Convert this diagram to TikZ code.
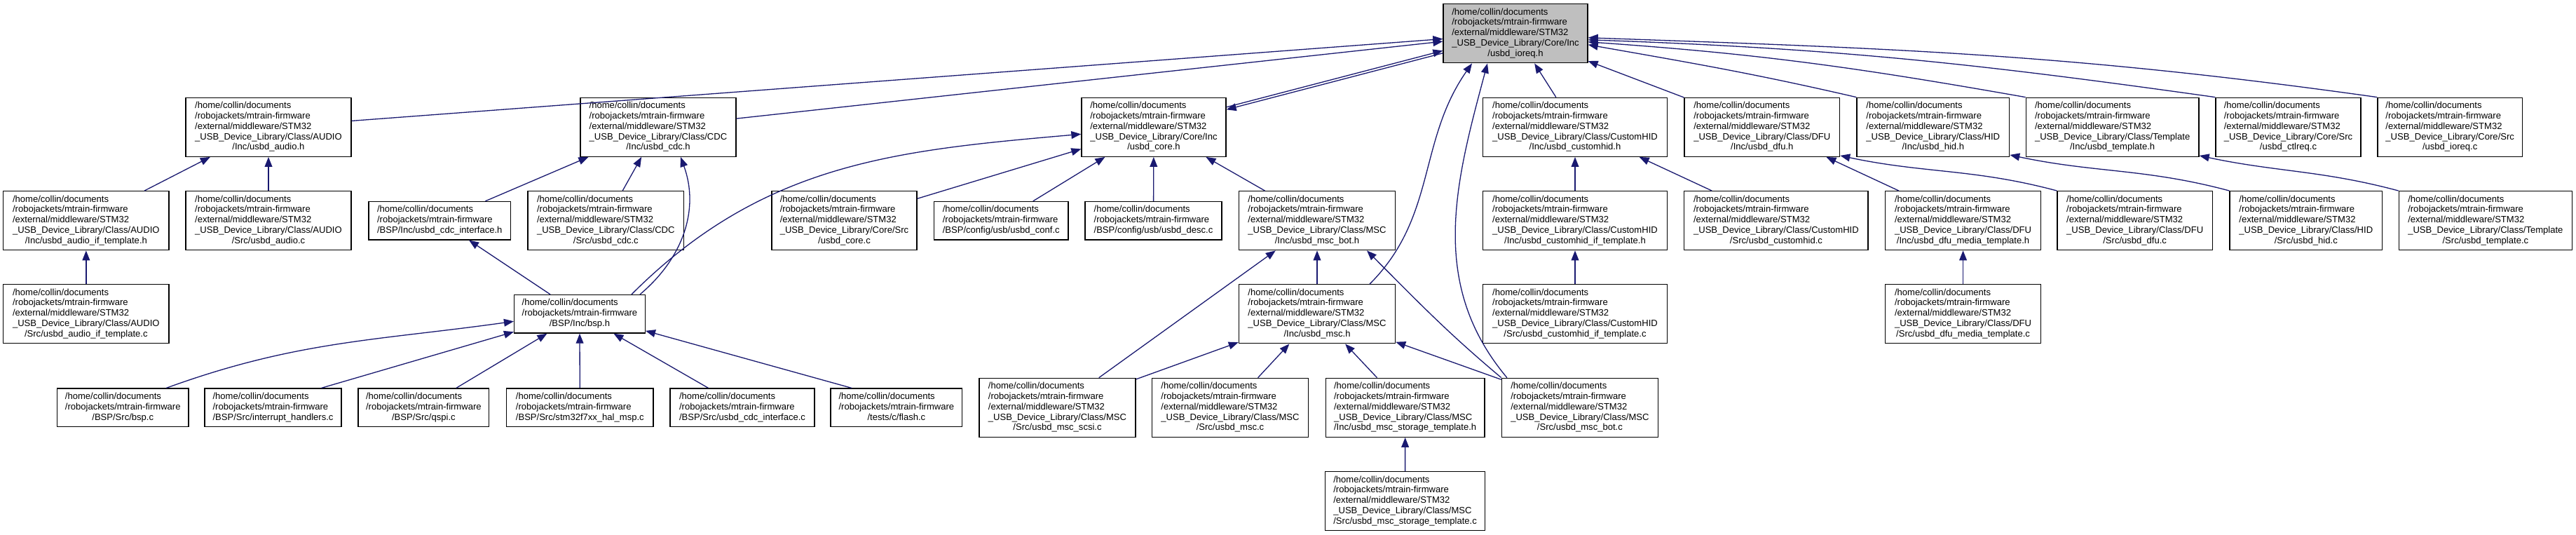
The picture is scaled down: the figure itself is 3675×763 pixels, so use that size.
\documentclass[tikz,border=0pt]{standalone}
\usepackage{fontspec}
\setmainfont{Liberation Sans}
\usetikzlibrary{arrows.meta}
\definecolor{edgeblue}{RGB}{25,25,112}
\definecolor{rootgray}{RGB}{191,191,191}
\newcommand\Lext[2]{\begin{tabular}{@{}l@{}}/home/collin/documents\\/robojackets/mtrain-firmware\\/external/middleware/STM32\\\_USB\_Device\_Library/#1\\\multicolumn{1}{@{}c@{}}{#2}\end{tabular}}
\newcommand\Lbsp[1]{\begin{tabular}{@{}l@{}}/home/collin/documents\\/robojackets/mtrain-firmware\\\multicolumn{1}{@{}c@{}}{#1}\end{tabular}}
\newcommand\Nd[6][]{\node[nbox,#1,minimum width={(#4-#3)*0.5pt}] (#2) at ({(#3+#4)/2},#5) {#6};}
\begin{document}
\begin{tikzpicture}[x=0.5pt,y=-0.5pt,
  nbox/.style={draw=black,fill=white,line width=0.65pt,inner sep=0pt,font=\fontsize{6.525}{7.4}\selectfont},
  fivel/.style={minimum height=42pt},
  threel/.style={minimum height=27.25pt},
  rootbox/.style={fill=rootgray},
  conn/.style={draw=edgeblue,line width=0.65pt,-{Triangle[length=7pt,width=5.4pt]}},
  mvx/.style={xshift={(#1)*0.5pt}},
  mvy/.style={yshift={-(#1)*0.5pt}}]
\path[use as bounding box,fill=white] (0,0) rectangle (3675,763);
% row 0
\Nd[fivel,rootbox]{ioreq}{2059}{2265}{47.8}{\Lext{Core/Inc}{/usbd\_ioreq.h}}
% row 1
\Nd[fivel]{audioh}{265}{501}{181.3}{\Lext{Class/AUDIO}{/Inc/usbd\_audio.h}}
\Nd[fivel]{cdch}{828}{1050}{181.3}{\Lext{Class/CDC}{/Inc/usbd\_cdc.h}}
\Nd[fivel]{coreh}{1543}{1749}{181.3}{\Lext{Core/Inc}{/usbd\_core.h}}
\Nd[fivel]{customhidh}{2115.5}{2378.5}{181.3}{\Lext{Class/CustomHID}{/Inc/usbd\_customhid.h}}
\Nd[fivel]{dfuh}{2403}{2624.6}{181.3}{\Lext{Class/DFU}{/Inc/usbd\_dfu.h}}
\Nd[fivel]{hidh}{2649}{2866.6}{181.3}{\Lext{Class/HID}{/Inc/usbd\_hid.h}}
\Nd[fivel]{templateh}{2890.3}{3137}{181.3}{\Lext{Class/Template}{/Inc/usbd\_template.h}}
\Nd[fivel]{ctlreqc}{3161}{3368}{181.3}{\Lext{Core/Src}{/usbd\_ctlreq.c}}
\Nd[fivel]{ioreqc}{3392}{3598.4}{181.3}{\Lext{Core/Src}{/usbd\_ioreq.c}}
% row 2
\Nd[fivel]{audioifth}{4.7}{241}{314.7}{\Lext{Class/AUDIO}{/Inc/usbd\_audio\_if\_template.h}}
\Nd[fivel]{audioc}{265}{501}{314.7}{\Lext{Class/AUDIO}{/Src/usbd\_audio.c}}
\Nd[threel]{bspcdcifh}{526}{728.5}{314.7}{\Lbsp{/BSP/Inc/usbd\_cdc\_interface.h}}
\Nd[fivel]{cdcc}{753}{975.6}{314.7}{\Lext{Class/CDC}{/Src/usbd\_cdc.c}}
\Nd[fivel]{corec}{1101}{1308}{314.7}{\Lext{Core/Src}{/usbd\_core.c}}
\Nd[threel]{confc}{1332.5}{1524}{314.7}{\Lbsp{/BSP/config/usb/usbd\_conf.c}}
\Nd[threel]{descc}{1548}{1743}{314.7}{\Lbsp{/BSP/config/usb/usbd\_desc.c}}
\Nd[fivel]{mscboth}{1767.4}{1990.6}{314.7}{\Lext{Class/MSC}{/Inc/usbd\_msc\_bot.h}}
\Nd[fivel]{customhidifth}{2115.5}{2378.5}{314.7}{\Lext{Class/CustomHID}{/Inc/usbd\_customhid\_if\_template.h}}
\Nd[fivel]{customhidc}{2402.8}{2665}{314.7}{\Lext{Class/CustomHID}{/Src/usbd\_customhid.c}}
\Nd[fivel]{dfumth}{2689.8}{2911.3}{314.7}{\Lext{Class/DFU}{/Inc/usbd\_dfu\_media\_template.h}}
\Nd[fivel]{dfuc}{2935}{3156.3}{314.7}{\Lext{Class/DFU}{/Src/usbd\_dfu.c}}
\Nd[fivel]{hidc}{3181}{3398.6}{314.7}{\Lext{Class/HID}{/Src/usbd\_hid.c}}
\Nd[fivel]{templatec}{3422.3}{3669.4}{314.7}{\Lext{Class/Template}{/Src/usbd\_template.c}}
% row 3
\Nd[fivel]{audioiftc}{4.7}{241}{447.8}{\Lext{Class/AUDIO}{/Src/usbd\_audio\_if\_template.c}}
\Nd[threel]{bsph}{733.6}{920.3}{447.8}{\Lbsp{/BSP/Inc/bsp.h}}
\Nd[fivel]{msch}{1767.4}{1990.6}{447.8}{\Lext{Class/MSC}{/Inc/usbd\_msc.h}}
\Nd[fivel]{customhidiftc}{2115.5}{2378.5}{447.8}{\Lext{Class/CustomHID}{/Src/usbd\_customhid\_if\_template.c}}
\Nd[fivel]{dfumtc}{2689.8}{2911.3}{447.8}{\Lext{Class/DFU}{/Src/usbd\_dfu\_media\_template.c}}
% row 4
\Nd[threel]{bspc}{81.5}{269}{581.3}{\Lbsp{/BSP/Src/bsp.c}}
\Nd[threel]{irqc}{292}{487}{581.3}{\Lbsp{/BSP/Src/interrupt\_handlers.c}}
\Nd[threel]{qspic}{511}{697.7}{581.3}{\Lbsp{/BSP/Src/qspi.c}}
\Nd[threel]{halmspc}{722.6}{932}{581.3}{\Lbsp{/BSP/Src/stm32f7xx\_hal\_msp.c}}
\Nd[threel]{cdcifc}{956}{1162}{581.3}{\Lbsp{/BSP/Src/usbd\_cdc\_interface.c}}
\Nd[threel]{flashc}{1185}{1372.8}{581.3}{\Lbsp{/tests/c/flash.c}}
\Nd[fivel]{mscscsic}{1397}{1620}{581.3}{\Lext{Class/MSC}{/Src/usbd\_msc\_scsi.c}}
\Nd[fivel]{mscc}{1643.6}{1866.4}{581.3}{\Lext{Class/MSC}{/Src/usbd\_msc.c}}
\Nd[fivel]{storageth}{1891.3}{2118}{581.3}{\Lext{Class/MSC}{/Inc/usbd\_msc\_storage\_template.h}}
\Nd[fivel]{mscbotc}{2142.4}{2365.4}{581.3}{\Lext{Class/MSC}{/Src/usbd\_msc\_bot.c}}
% row 5
\Nd[fivel]{storagetc}{1890.5}{2118.7}{714.7}{\Lext{Class/MSC}{/Src/usbd\_msc\_storage\_template.c}}
% edges into ioreq.h
\draw[conn] (audioh) -- (ioreq);
\draw[conn] (cdch) -- (ioreq);
\draw[conn] ([mvy=-28.5]coreh.east) -- ([mvy=24.5]ioreq.west);
\draw[conn] ([mvy=28]ioreq.west) -- ([mvy=-25]coreh.east);
\draw[conn] (customhidh) -- (ioreq);
\draw[conn] (dfuh) -- (ioreq);
\draw[conn] (hidh.north west) to[out=167,in=-10] ([mvy=16]ioreq.east);
\draw[conn] (templateh.north west) to[out=170,in=-4] ([mvy=12]ioreq.east);
\draw[conn] (ctlreqc.north west) to[out=172,in=-2] ([mvy=9]ioreq.east);
\draw[conn] (ioreqc.north west) to[out=172,in=-2] ([mvy=6]ioreq.east);
\draw[conn] ([mvx=75]msch.north) to[out=45,in=235] ([mvx=-62]ioreq.south);
\draw[conn] ([mvx=-104]mscbotc.north) to[out=130,in=255] ([mvx=-40]ioreq.south);
% audio
\draw[conn] (audioifth) -- (audioh);
\draw[conn] (audioc) -- (audioh);
\draw[conn] (audioiftc) -- (audioifth);
% cdc
\draw[conn] (bspcdcifh) -- (cdch);
\draw[conn] (cdcc) -- (cdch);
\draw[conn] ([mvx=-8]bsph.north east) to[out=40,in=-70] ([mvx=32]cdch.south);
\draw[conn] (bsph) -- (bspcdcifh);
\draw[conn] ([mvx=-20]bsph.north east) to[out=45,in=185] ([mvy=10]coreh.west);
% core
\draw[conn] (corec) -- (coreh);
\draw[conn] (confc) -- (coreh);
\draw[conn] (descc) -- (coreh);
\draw[conn] (mscboth) -- (coreh);
% msc
\draw[conn] (msch) -- (mscboth);
\draw[conn] (mscscsic) -- (mscboth);
\draw[conn] (mscscsic) -- (msch);
\draw[conn] (mscc) -- (msch);
\draw[conn] (storageth) -- (msch);
\draw[conn] (storagetc) -- (storageth);
\draw[conn] (mscbotc) -- (msch);
\draw[conn] (mscbotc.north west) to[out=140,in=-45] ([mvx=71]mscboth.south);
% customhid
\draw[conn] (customhidifth) -- (customhidh);
\draw[conn] (customhidiftc) -- (customhidifth);
\draw[conn] (customhidc) -- (customhidh);
% dfu
\draw[conn] (dfumth) -- (dfuh);
\draw[conn] (dfumtc) -- (dfumth);
\draw[conn] (dfuc.north west) to[out=165,in=-12] ([mvy=-2]dfuh.south east);
% hid, template
\draw[conn] (hidc.north west) to[out=165,in=-12] ([mvy=-3]hidh.south east);
\draw[conn] (templatec.north west) to[out=165,in=-12] ([mvy=-2]templateh.south east);
% bsp
\draw[conn] ([mvx=62]bspc.north) to[out=20,in=188] ([mvy=10.5]bsph.west);
\draw[conn] ([mvx=69]irqc.north) -- ([mvy=25.5]bsph.west);
\draw[conn] (qspic) -- (bsph);
\draw[conn] (halmspc) -- (bsph);
\draw[conn] (cdcifc) -- (bsph);
\draw[conn] ([mvx=-64]flashc.north) -- ([mvy=24]bsph.east);
\end{tikzpicture}
\end{document}
